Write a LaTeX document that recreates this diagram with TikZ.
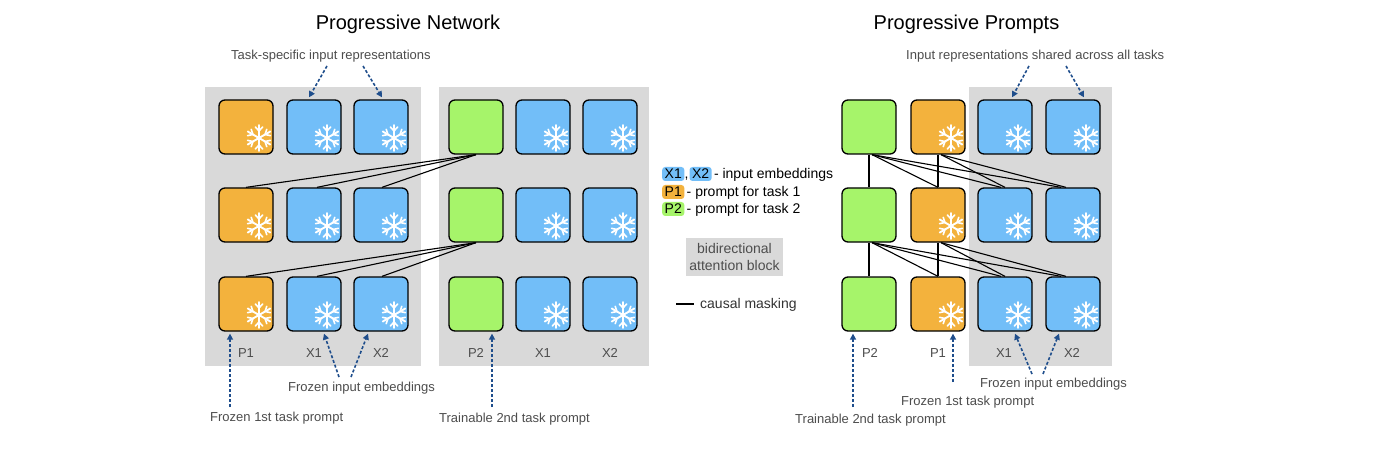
\documentclass[tikz,border=0pt]{standalone}
\usepackage{fontspec}
\setmainfont{Liberation Sans}
\usetikzlibrary{arrows.meta,calc}
\definecolor{corange}{HTML}{F3B23D}
\definecolor{cblue}{HTML}{72BEF8}
\definecolor{cgreen}{HTML}{A6F46A}
\definecolor{bggray}{HTML}{D9D9D9}
\definecolor{navy}{HTML}{1F4E8C}
\definecolor{tgray}{HTML}{4D4D4D}
\begin{document}
\begin{tikzpicture}[x=1pt,y=-1pt,
  tok/.style={draw=black, line width=1.3pt, rounded corners=6pt, minimum width=54pt, minimum height=54pt, inner sep=0pt},
  otok/.style={tok, fill=corange},
  btok/.style={tok, fill=cblue},
  gtok/.style={tok, fill=cgreen},
  conn/.style={draw=black, line width=1.1pt},
  darr/.style={draw=navy, line width=1.6pt, dash pattern=on 3pt off 2pt, -{Triangle[length=6pt,width=6pt]}},
  lbl/.style={font=\fontsize{13}{15}\selectfont, text=tgray, inner sep=0pt, anchor=base west},
  tl/.style={font=\fontsize{13}{15}\selectfont, text=tgray, inner sep=0pt, anchor=base},
  ttl/.style={font=\fontsize{20}{24}\selectfont, inner sep=0pt, anchor=base},
  leg/.style={font=\fontsize{14}{17}\selectfont, inner sep=0pt, anchor=base west},
  hl/.style={leg, rounded corners=3pt, inner xsep=2.5pt, inner ysep=2pt, text height=10pt, text depth=0pt},
  flake/.pic={
    \foreach \a in {30,90,150,210,270,330} {
      \draw[white, line width=1.9pt, line cap=round] (0,0) -- (\a:13);
      \draw[white, line width=1.6pt, line cap=round] (\a:7) -- ++(\a+42:5.5) (\a:7) -- ++(\a-42:5.5);
    }
  }
]
\useasboundingbox (0,0) rectangle (1400,449);
\fill[white] (0,0) rectangle (1400,449);

% panels
\fill[bggray] (205,87) rectangle (421,366);
\fill[bggray] (439,87) rectangle (649,366);
\fill[bggray] (969,87) rectangle (1112,366);

% titles
\node[ttl] (t1) at (408,30) {Progressive Network};
\node[ttl] (t2) at (966.5,30) {Progressive Prompts};

% tokens
\foreach \r/\y in {1/127,2/215,3/304} {
  \node[otok] (a\r1) at (246,\y) {};
  \node[btok] (a\r2) at (314,\y) {};
  \node[btok] (a\r3) at (381,\y) {};
  \node[gtok] (b\r1) at (476,\y) {};
  \node[btok] (b\r2) at (543,\y) {};
  \node[btok] (b\r3) at (610,\y) {};
  \node[gtok] (r\r1) at (869,\y) {};
  \node[otok] (r\r2) at (938,\y) {};
  \node[btok] (r\r3) at (1005,\y) {};
  \node[btok] (r\r4) at (1073,\y) {};
}
\foreach \n in {a11,a12,a13,a21,a22,a23,a31,a32,a33,b12,b13,b22,b23,b32,b33,r12,r13,r14,r22,r23,r24,r32,r33,r34}
  \pic at ([shift={(13,11)}]\n.center) {flake};

% token labels
\node[tl] (la1) at (246,357) {P1};
\node[tl] (la2) at (314,357) {X1};
\node[tl] (la3) at (381,357) {X2};
\node[tl] (lb1) at (476,357) {P2};
\node[tl] (lb2) at (543,357) {X1};
\node[tl] (lb3) at (610,357) {X2};
\node[tl] (lr1) at (870,357) {P2};
\node[tl] (lr2) at (938,357) {P1};
\node[tl] (lr3) at (1004,357) {X1};
\node[tl] (lr4) at (1072,357) {X2};

% left connectors
\foreach \s/\u in {1/2,2/3} {
  \draw[conn] (b\s1.south) -- (a\u1.north);
  \draw[conn] (b\s1.south) -- ([xshift=3pt]a\u2.north);
  \draw[conn] (b\s1.south) -- ([xshift=1pt]a\u3.north);
}
% right connectors
\foreach \s/\u in {1/2,2/3} {
  \draw[conn] (r\s1.south) -- (r\u1.north);
  \draw[conn] ([xshift=3pt]r\s1.south) -- (r\u2.north);
  \draw[conn] ([xshift=3pt]r\s1.south) -- ([xshift=-4pt]r\u3.north);
  \draw[conn] ([xshift=3pt]r\s1.south) -- ([xshift=-12pt]r\u4.north);
  \draw[conn] (r\s2.south) -- (r\u2.north);
  \draw[conn] ([xshift=3pt]r\s2.south) -- (r\u3.north);
  \draw[conn] ([xshift=3pt]r\s2.south) -- ([xshift=-7pt]r\u4.north);
}

% annotation labels
\node[lbl] (n1) at (231,60) {Task-specific input representations};
\node[lbl] (n2) at (288,391) {Frozen input embeddings};
\node[lbl] (n3) at (210,421) {Frozen 1st task prompt};
\node[lbl] (n4) at (439,422) {Trainable 2nd task prompt};
\node[lbl] (n5) at (906,60) {Input representations shared across all tasks};
\node[lbl] (n6) at (795,423) {Trainable 2nd task prompt};
\node[lbl] (n7) at (901,405) {Frozen 1st task prompt};
\node[lbl] (n8) at (980,387) {Frozen input embeddings};

% dashed arrows
\coordinate (s1) at (327,66);
\coordinate (s2) at (363,66);
\coordinate (s3) at (230,407);
\coordinate (s4) at (339,377);
\coordinate (s5) at (351,377);
\coordinate (s6) at (492,407);
\coordinate (s7) at (1029,66);
\coordinate (s8) at (1066,66);
\coordinate (s9) at (853,407);
\coordinate (s10) at (953,382);
\coordinate (s11) at (1032,374);
\coordinate (s12) at (1043,374);
\draw[darr] (s1) -- ([xshift=-5pt,yshift=2pt]a12.north);
\draw[darr] (s2) -- ([xshift=1pt,yshift=2pt]a13.north);
\draw[darr] (s3) -- ([xshift=-16pt,yshift=-2pt]a31.south);
\draw[darr] (s4) -- ([xshift=10pt,yshift=-2pt]a32.south);
\draw[darr] (s5) -- ([xshift=-13pt,yshift=-2pt]a33.south);
\draw[darr] (s6) -- ([xshift=16pt,yshift=-2pt]b31.south);
\draw[darr] (s7) -- ([xshift=7pt,yshift=2pt]r13.north);
\draw[darr] (s8) -- ([xshift=11pt,yshift=2pt]r14.north);
\draw[darr] (s9) -- ([xshift=-16pt,yshift=-2pt]r31.south);
\draw[darr] (s10) -- ([xshift=15pt,yshift=-2pt]r32.south);
\draw[darr] (s11) -- ([xshift=10pt,yshift=-2pt]r33.south);
\draw[darr] (s12) -- ([xshift=-14pt,yshift=-2pt]r34.south);

% legend
\node[hl, fill=cblue] (kx1) at (662,179) {X1};
\node[leg] (kc1) at (kx1.base east) {,};
\node[hl, fill=cblue] (kx2) at ([xshift=0.5pt]kc1.base east) {X2};
\node[leg] (kt1) at ([xshift=2pt]kx2.base east) {- input embeddings};
\node[hl, fill=corange] (kp1) at (662,197) {P1};
\node[leg] (kt2) at ([xshift=2pt]kp1.base east) {- prompt for task 1};
\node[hl, fill=cgreen] (kp2) at (662,214) {P2};
\node[leg] (kt3) at ([xshift=2pt]kp2.base east) {- prompt for task 2};
\node[fill=bggray, minimum width=97pt, minimum height=38pt, align=center, text=tgray, font=\fontsize{14}{17}\selectfont, inner sep=0pt] (bab) at (734.5,257) {bidirectional\\attention block};
\draw[line width=1.5pt] (676,304) -- (694,304);
\node[leg, text=black!80] (cm) at (700,308) {causal masking};
\end{tikzpicture}
\end{document}
